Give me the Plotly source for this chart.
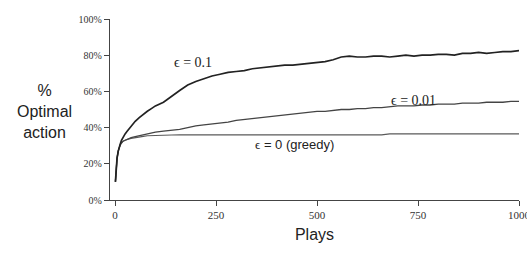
import plotly.graph_objects as go

plays = [1, 3, 5, 8, 10, 13, 16, 20, 25, 30, 35, 40, 50, 60, 70, 80, 90, 100,
         120, 140, 160, 180, 200, 220, 240, 260, 280, 300, 320, 340, 360, 380,
         400, 420, 440, 460, 480, 500, 520, 540, 560, 580, 600, 620, 640, 660,
         680, 700, 720, 740, 760, 780, 800, 820, 840, 860, 880, 900, 920, 940,
         960, 980, 1000]

eps_01 = [10, 18, 23, 27, 29, 31, 33, 35, 36.5, 38, 39.5, 41, 43.5, 45.5, 47.5, 49, 50.5, 52,
          54, 57.5, 60.5, 63.5, 65.5, 67, 68.5, 69.5, 70.5, 71, 71.5, 72.5, 73, 73.5,
          74, 74.5, 74.5, 75, 75.5, 76, 76.5, 77.5, 79, 79.5, 79, 79, 79.5, 79.5,
          79, 79.5, 80, 79.5, 80, 80, 80.5, 80.5, 80, 81, 81, 81.5, 81, 81.5,
          82, 82, 82.5]

eps_001 = [10, 18, 23, 27, 29, 30.5, 31.5, 32.5, 33, 33.5, 34, 34.5, 35, 35.5, 36, 36.5, 37, 37.5,
           38, 38.5, 39, 40, 41, 41.5, 42, 42.5, 43, 44, 44.5, 45, 45.5, 46,
           46.5, 47, 47.5, 48, 48.5, 49, 49, 49.5, 50, 50, 50.5, 50.5, 51, 51,
           51.5, 52, 52, 52, 52.5, 52.5, 53, 53, 53, 53.5, 53.5, 53.5, 54, 54,
           54, 54.5, 54.5]

greedy = [10, 18, 23, 27, 29, 30.5, 31.5, 32.5, 33, 33.5, 33.8, 34, 34.5, 35, 35.2, 35.5, 35.5, 35.6,
          35.8, 35.9, 36, 36, 36, 36, 36, 36, 36, 36, 36, 36, 36, 36,
          36, 36, 36, 36, 36, 36, 36, 36, 36, 36, 36, 36, 36, 36,
          36.5, 36.5, 36.5, 36.5, 36.5, 36.5, 36.5, 36.5, 36.5, 36.5, 36.5, 36.5, 36.5, 36.5,
          36.5, 36.5, 36.5]

x_ticks = [0, 250, 500, 750, 1000]
y_ticks = [0, 20, 40, 60, 80, 100]
y_tick_labels = ["0%", "20%", "40%", "60%", "80%", "100%"]

fig = go.Figure()
fig.add_trace(go.Scatter(x=plays, y=greedy, mode="lines",
                         line=dict(color="#5a5a5a", width=1.2), showlegend=False))
fig.add_trace(go.Scatter(x=plays, y=eps_001, mode="lines",
                         line=dict(color="#444444", width=1.3), showlegend=False))
fig.add_trace(go.Scatter(x=plays, y=eps_01, mode="lines",
                         line=dict(color="#222222", width=1.7), showlegend=False))

serif = "Liberation Serif, Times New Roman, serif"
sans = "Liberation Sans, Arial, sans-serif"

fig.add_annotation(x=193, y=76, text="\u03f5 = 0.1", showarrow=False,
                   font=dict(family=serif, size=14, color="#222"))
fig.add_annotation(x=738, y=55, text="\u03f5 = 0.01", showarrow=False,
                   font=dict(family=serif, size=14, color="#222"))
fig.add_annotation(x=445, y=30.5, showarrow=False,
                   text="<span style='font-family:Liberation Serif'>\u03f5</span> = 0 (greedy)",
                   font=dict(family=sans, size=13, color="#222"))

fig.add_annotation(xref="paper", yref="paper", x=-0.159, y=0.49, xanchor="center",
                   yanchor="middle",
                   text="%<br>Optimal<br>action", showarrow=False, align="center",
                   font=dict(family=sans, size=16, color="#222"))

fig.update_xaxes(range=[-12.4, 1000], tickvals=x_ticks, ticktext=[str(v) for v in x_ticks],
                 automargin=False, ticklabeloverflow="allow",
                 showgrid=False, zeroline=False, showline=True, linecolor="#444",
                 linewidth=1.3, ticks="outside", ticklen=5, tickcolor="#444",
                 tickfont=dict(family=serif, size=11, color="#333"),
                 title=dict(text="Plays", font=dict(family=sans, size=16, color="#222"),
                            standoff=8))
fig.update_yaxes(range=[0, 100], tickvals=y_ticks, ticktext=y_tick_labels,
                 automargin=False,
                 showgrid=False, zeroline=False, showline=True, linecolor="#444",
                 linewidth=1.3, ticks="outside", ticklen=5, tickcolor="#444",
                 tickfont=dict(family=serif, size=10, color="#333"))

fig.update_layout(width=527, height=254, margin=dict(l=110, r=8, t=19, b=54),
                  plot_bgcolor="white", paper_bgcolor="white")

fig.write_html("out.html", config={"displayModeBar": False},
               post_script="document.body.style.margin='0px';")
